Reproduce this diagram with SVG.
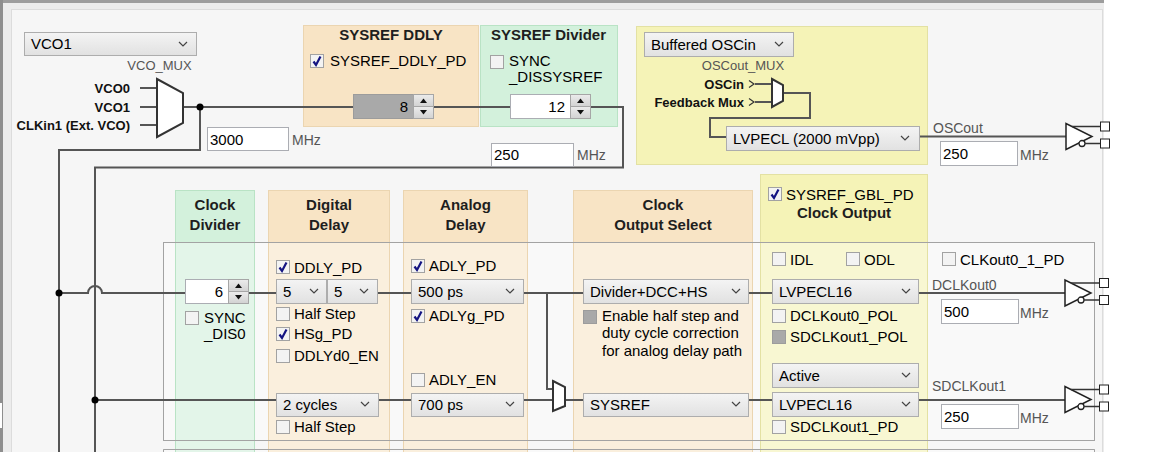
<svg xmlns="http://www.w3.org/2000/svg" width="1152" height="452" viewBox="0 0 1152 452">
<style>
.t{font-family:"Liberation Sans",Arial,sans-serif;font-size:15px;fill:#000}
.h{font-family:"Liberation Sans",Arial,sans-serif;font-size:15px;font-weight:bold;fill:#1e1e1e;text-anchor:middle}
.lb{font-family:"Liberation Sans",Arial,sans-serif;font-size:13px;font-weight:bold;fill:#111;text-anchor:end}
.g{font-family:"Liberation Sans",Arial,sans-serif;font-size:14px;fill:#555}
.gm{font-family:"Liberation Sans",Arial,sans-serif;font-size:13px;fill:#555;text-anchor:middle}
.dd{fill:url(#ddg);stroke:#adadad;stroke-width:1}
.tb{fill:#fff;stroke:#abadb3;stroke-width:1}
.mux{fill:#fff;stroke:#333;stroke-width:2;stroke-linejoin:miter}
.pe{fill:#f8e4c5;stroke:#ebd5b1}
.peb{fill:#faefdd;stroke:#ebd5b1}
.gr{fill:#d3f1dc;stroke:#b9e3c5}
.grb{fill:#e3f5e9;stroke:#b9e3c5}
.ye{fill:#f5f3b7;stroke:#e3e1a3}
.yeb{fill:#f8f7d2;stroke:#e3e1a3}
.box{fill:none;stroke:#a3a3a3;stroke-width:1}
.con{fill:none;stroke:#555;stroke-width:2}
</style>
<defs>
<linearGradient id="ddg" x1="0" y1="0" x2="0" y2="1"><stop offset="0" stop-color="#f4f4f4"/><stop offset="1" stop-color="#e1e1e1"/></linearGradient>
<linearGradient id="sbg" x1="0" y1="0" x2="0" y2="1"><stop offset="0" stop-color="#ececec"/><stop offset="1" stop-color="#d2d2d2"/></linearGradient>
<g id="chev"><polyline points="-4,-2 0,2 4,-2" fill="none" stroke="#444" stroke-width="1.2"/></g>
<g id="cb"><rect x="0.5" y="0.5" width="13" height="13" fill="#f3f3f3" stroke="#a2a2a2"/></g>
<g id="cbx"><rect x="0.5" y="0.5" width="13" height="13" fill="#f3f3f3" stroke="#a2a2a2"/><path d="M3.5,7.5 L6,11 L10.5,2.5" fill="none" stroke="#141482" stroke-width="2.2"/></g>
<g id="cbg"><rect x="0.5" y="0.5" width="13" height="13" fill="#a9a9a9" stroke="#9c9c9c"/></g>
<g id="spin"><rect x="0.5" y="0.5" width="20" height="12" fill="url(#sbg)" stroke="#a6a6a6"/><rect x="0.5" y="12.5" width="20" height="12" fill="url(#sbg)" stroke="#a6a6a6"/><polygon points="7,9 14,9 10.5,4.5" fill="#111"/><polygon points="7,16 14,16 10.5,20.5" fill="#111"/></g>
<g id="buf"><polygon points="0,-13 0,13 26,0" fill="#fff" stroke="#222" stroke-width="1.5"/><line x1="6" y1="-10" x2="34" y2="-10" stroke="#333" stroke-width="1.5"/><rect x="34.5" y="-14.5" width="9" height="9" fill="#fff" stroke="#222"/><circle cx="16" cy="7" r="3" fill="#fff" stroke="#222" stroke-width="1.3"/><line x1="19" y1="7" x2="34" y2="7" stroke="#333" stroke-width="1.5"/><rect x="34.5" y="2.5" width="9" height="9" fill="#fff" stroke="#222"/></g>
</defs>

<g id="background">
<rect width="1152" height="452" fill="#fff"/>
<rect x="0" y="0" width="1104" height="452" fill="#ececec"/>
<rect x="0" y="0" width="1104" height="3" fill="#9d9d9d"/>
<rect x="0" y="0" width="3" height="452" fill="#8e8e8e"/>
<rect x="0" y="403" width="2" height="25" fill="#fff"/>
<rect x="11.5" y="9.5" width="1091" height="450" fill="#f6f6f6" stroke="#dcdcdc"/>
<rect x="163.5" y="242.5" width="931" height="198" fill="#f9f9f9" stroke="#a3a3a3"/>
<path d="M163.5,453 V449.5 H1094.5 V453" fill="#f9f9f9" stroke="#a3a3a3"/>
</g>

<g id="panels">
<rect class="pe" x="303.5" y="25.5" width="175" height="101"/>
<rect class="gr" x="480.5" y="25.5" width="137" height="101"/>
<rect class="ye" x="636.5" y="26.5" width="291" height="138"/>
<rect class="gr" x="175.5" y="190.5" width="79" height="52"/>
<rect class="grb" x="175.5" y="242.5" width="79" height="212"/>
<rect class="pe" x="268.5" y="190.5" width="121" height="52"/>
<rect class="peb" x="268.5" y="242.5" width="121" height="212"/>
<rect class="pe" x="403.5" y="190.5" width="124" height="52"/>
<rect class="peb" x="403.5" y="242.5" width="124" height="212"/>
<rect class="pe" x="573.5" y="190.5" width="179" height="52"/>
<rect class="peb" x="573.5" y="242.5" width="179" height="212"/>
<rect class="ye" x="760.5" y="174.5" width="167" height="68"/>
<rect class="yeb" x="760.5" y="242.5" width="167" height="212"/>
<path class="box" d="M163.5,242.5 H1094.5 M163.5,440.5 H1094.5 M163.5,449.5 H1094.5"/>
</g>

<g id="connectors">
<path class="con" d="M140,88 H157 M140,107 H157 M140,125 H157"/>
<path class="con" d="M183,107 H623 V167.5 H95 V452"/>
<path class="con" d="M200,107 V150 H59 V452"/>
<path class="con" d="M755,84 H772 M755,102 H772"/>
<polyline points="749,80.5 754,84 749,87.5" fill="none" stroke="#333" stroke-width="1.2"/>
<polyline points="749,98.5 754,102 749,105.5" fill="none" stroke="#333" stroke-width="1.2"/>
<path class="con" d="M783,93 H810 V118 H710 V137 H726"/>
<path class="con" d="M919,136.5 H1066"/>
<path class="con" d="M59,293 H88 A7,7 0 0 1 102,293 H1066"/>
<path class="con" d="M95,400 H553 M565,400 H1066"/>
<path class="con" d="M547,293 V389 H553"/>
<circle cx="200" cy="107" r="3.5" fill="#000"/>
<circle cx="59" cy="293" r="3.5" fill="#000"/>
<circle cx="95" cy="400" r="3.5" fill="#000"/>
</g>

<g id="vco-mux-select">
<rect class="dd" x="24.5" y="32.5" width="172" height="23"/>
<text class="t" x="31" y="49">VCO1</text>
<use href="#chev" x="183" y="44"/>
</g>

<g id="vco-mux">
<text class="gm" x="159.5" y="70">VCO_MUX</text>
<polygon class="mux" points="157,79 183,93 183,123 157,137"/>
<text class="lb" x="130" y="93">VCO0</text>
<text class="lb" x="130" y="112">VCO1</text>
<text class="lb" x="130" y="130">CLKin1 (Ext. VCO)</text>
</g>

<g id="vco-freq">
<rect class="tb" x="207.5" y="127.5" width="81" height="23"/>
<text class="t" x="210" y="145">3000</text>
<text class="g" x="292" y="145">MHz</text>
</g>

<g id="sysref-ddly">
<text class="h" x="391" y="40">SYSREF DDLY</text>
<use href="#cbx" x="310" y="54"/>
<text class="t" x="330" y="66">SYSREF_DDLY_PD</text>
<rect x="353.5" y="94.5" width="60" height="24" fill="#a9a9a9" stroke="#9c9c9c"/>
<text class="t" x="408" y="112" text-anchor="end">8</text>
<use href="#spin" x="413" y="94"/>
</g>

<g id="sysref-divider">
<text class="h" x="548.5" y="40">SYSREF Divider</text>
<use href="#cb" x="490" y="55"/>
<text class="t" x="509" y="66">SYNC</text>
<text class="t" x="509" y="82">_DISSYSREF</text>
<rect class="tb" x="510.5" y="94.5" width="60" height="24"/>
<text class="t" x="565" y="112" text-anchor="end">12</text>
<use href="#spin" x="570" y="94"/>
</g>

<g id="sysref-freq">
<rect class="tb" x="491.5" y="143.5" width="82" height="23"/>
<text class="t" x="494" y="160">250</text>
<text class="g" x="577" y="160">MHz</text>
</g>

<g id="oscout">
<rect class="dd" x="644.5" y="32.5" width="149" height="24"/>
<text class="t" x="651" y="50">Buffered OSCin</text>
<use href="#chev" x="779" y="44"/>
<text class="gm" x="743" y="70">OSCout_MUX</text>
<text class="lb" x="744" y="89">OSCin</text>
<text class="lb" x="744" y="107">Feedback Mux</text>
<polygon class="mux" points="772,79 783,85 783,101 772,107"/>
<rect class="dd" x="726.5" y="126.5" width="193" height="24"/>
<text class="t" x="733" y="144">LVPECL (2000 mVpp)</text>
<use href="#chev" x="905" y="138"/>
</g>

<g id="oscout-out">
<text class="g" x="933" y="133">OSCout</text>
<rect class="tb" x="940.5" y="141.5" width="77" height="24"/>
<text class="t" x="943" y="159">250</text>
<text class="g" x="1020" y="160">MHz</text>
<use href="#buf" x="1066" y="136.5"/>
</g>

<g id="clock-divider">
<text class="h" x="215" y="210">Clock</text>
<text class="h" x="215" y="230">Divider</text>
<rect class="tb" x="185.5" y="279.5" width="43" height="24"/>
<text class="t" x="223" y="297" text-anchor="end">6</text>
<use href="#spin" x="228" y="279"/>
<use href="#cb" x="185" y="311"/>
<text class="t" x="204" y="323">SYNC</text>
<text class="t" x="204" y="339">_DIS0</text>
</g>

<g id="digital-delay">
<text class="h" x="329" y="210">Digital</text>
<text class="h" x="329" y="230">Delay</text>
<use href="#cbx" x="276" y="260"/>
<text class="t" x="294" y="273">DDLY_PD</text>
<rect class="dd" x="276.5" y="279.5" width="50" height="24"/>
<text class="t" x="283" y="297">5</text>
<use href="#chev" x="314" y="291"/>
<rect class="dd" x="327.5" y="279.5" width="50" height="24"/>
<text class="t" x="334" y="297">5</text>
<use href="#chev" x="364" y="291"/>
<use href="#cb" x="276" y="307"/>
<text class="t" x="294" y="319">Half Step</text>
<use href="#cbx" x="276" y="327"/>
<text class="t" x="294" y="339">HSg_PD</text>
<use href="#cb" x="276" y="349"/>
<text class="t" x="294" y="361">DDLYd0_EN</text>
<rect class="dd" x="276.5" y="393.5" width="102" height="23"/>
<text class="t" x="283" y="410">2 cycles</text>
<use href="#chev" x="365" y="404"/>
<use href="#cb" x="276" y="420"/>
<text class="t" x="294" y="432">Half Step</text>
</g>

<g id="analog-delay">
<text class="h" x="465.5" y="210">Analog</text>
<text class="h" x="465.5" y="230">Delay</text>
<use href="#cbx" x="411" y="259"/>
<text class="t" x="429" y="271">ADLY_PD</text>
<rect class="dd" x="411.5" y="279.5" width="112" height="24"/>
<text class="t" x="418" y="297">500 ps</text>
<use href="#chev" x="510" y="291"/>
<use href="#cbx" x="411" y="309"/>
<text class="t" x="429" y="321">ADLYg_PD</text>
<use href="#cb" x="411" y="373"/>
<text class="t" x="429" y="385">ADLY_EN</text>
<rect class="dd" x="411.5" y="393.5" width="112" height="23"/>
<text class="t" x="418" y="410">700 ps</text>
<use href="#chev" x="510" y="404"/>
</g>

<g id="sysref-mux">
<polygon class="mux" points="553,381 565,387 565,406 553,411"/>
</g>

<g id="clock-output-select">
<text class="h" x="663" y="210">Clock</text>
<text class="h" x="663" y="230">Output Select</text>
<rect class="dd" x="583.5" y="279.5" width="165" height="24"/>
<text class="t" x="590" y="297">Divider+DCC+HS</text>
<use href="#chev" x="736" y="291"/>
<use href="#cbg" x="583" y="310"/>
<text class="t" x="602" y="321">Enable half step and</text>
<text class="t" x="602" y="338">duty cycle correction</text>
<text class="t" x="602" y="356">for analog delay path</text>
<rect class="dd" x="583.5" y="393.5" width="165" height="23"/>
<text class="t" x="590" y="410">SYSREF</text>
<use href="#chev" x="736" y="404"/>
</g>

<g id="clock-output">
<use href="#cbx" x="768" y="187"/>
<text class="t" x="786" y="200">SYSREF_GBL_PD</text>
<text class="h" x="844" y="218">Clock Output</text>
<use href="#cb" x="772" y="252"/>
<text class="t" x="790" y="265">IDL</text>
<use href="#cb" x="846" y="252"/>
<text class="t" x="864" y="265">ODL</text>
<use href="#cb" x="942" y="252"/>
<text class="t" x="960" y="265">CLKout0_1_PD</text>
<rect class="dd" x="772.5" y="279.5" width="146" height="24"/>
<text class="t" x="779" y="297">LVPECL16</text>
<use href="#chev" x="906" y="291"/>
<use href="#cb" x="772" y="309"/>
<text class="t" x="790" y="321">DCLKout0_POL</text>
<use href="#cbg" x="772" y="330"/>
<text class="t" x="790" y="342">SDCLKout1_POL</text>
<rect class="dd" x="772.5" y="363.5" width="146" height="24"/>
<text class="t" x="779" y="381">Active</text>
<use href="#chev" x="906" y="375"/>
<rect class="dd" x="772.5" y="392.5" width="146" height="24"/>
<text class="t" x="779" y="410">LVPECL16</text>
<use href="#chev" x="906" y="404"/>
<use href="#cb" x="772" y="420"/>
<text class="t" x="790" y="432">SDCLKout1_PD</text>
</g>

<g id="dclkout0">
<text class="g" x="932" y="290">DCLKout0</text>
<rect class="tb" x="941.5" y="299.5" width="77" height="24"/>
<text class="t" x="944" y="317">500</text>
<text class="g" x="1020" y="318">MHz</text>
<use href="#buf" x="1065" y="293"/>
</g>

<g id="sdclkout1">
<text class="g" x="932" y="391">SDCLKout1</text>
<rect class="tb" x="941.5" y="404.5" width="77" height="24"/>
<text class="t" x="944" y="422">250</text>
<text class="g" x="1020" y="423">MHz</text>
<use href="#buf" x="1065" y="399.5"/>
</g>
</svg>
